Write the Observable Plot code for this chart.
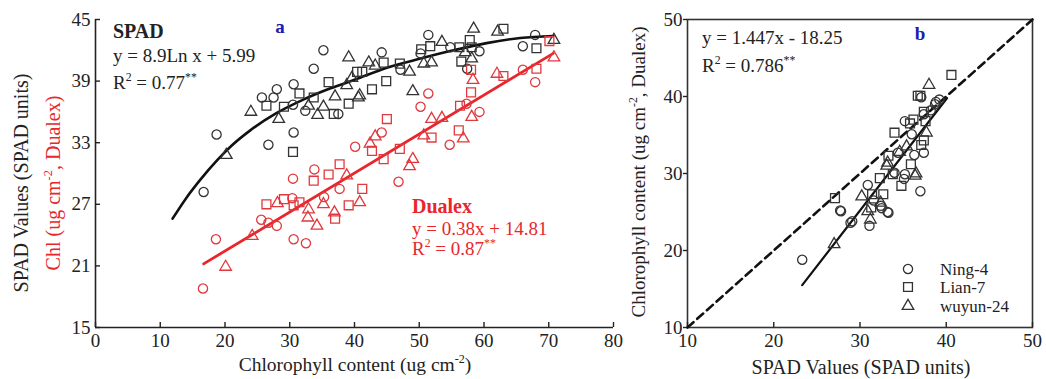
<!DOCTYPE html>
<html><head><meta charset="utf-8">
<script src="https://cdn.jsdelivr.net/npm/d3@7"></script>
<script src="https://cdn.jsdelivr.net/npm/@observablehq/plot@0.6"></script>
<style>
body{margin:0;background:#fff;}
#wrap{position:relative;width:1046px;height:379px;overflow:hidden;background:#fff;}
#wrap > svg{position:absolute;top:0;}
</style></head>
<body><div id="wrap"></div>
<script>
// ---------- data ----------
const cultivars = ["Ning-4", "Lian-7", "wuyun-24"];
const shapes = ["circle", "square", "triangle"];
const chlTicks = [0, 10, 20, 30, 40, 50, 60, 70, 80];
const spadTicks = [15, 21, 27, 33, 39, 45];
const bTicks = [10, 20, 30, 40, 50];

// Panel a: SPAD (black) vs chlorophyll content
const spadNing = [[16.7,28.2],[18.7,33.8],[26.7,32.8],[25.7,37.4],[27.5,37.4],[28.0,38.2],[30.6,38.7],[30.6,34.0],[30.5,36.7],[33.7,40.2],[35.2,42.0],[32.4,36.1],[37.5,35.8],[51.4,43.5],[44.2,41.8],[47.1,40.1],[50.2,41.7],[54.8,42.3],[59.3,41.9],[57.4,40.2],[66.0,42.4],[67.9,43.5]];
const spadLian = [[26.4,36.6],[29.1,36.5],[30.5,32.1],[31.5,37.8],[33.7,37.4],[36.0,38.9],[39.1,36.8],[40.4,39.9],[36.8,35.8],[41.2,39.9],[42.7,38.2],[44.5,40.8],[44.9,39.0],[47.0,40.7],[50.3,42.1],[51.7,42.4],[56.2,42.3],[57.8,43.0],[58.1,42.3],[56.5,40.9],[63.0,44.1],[68.1,42.2]];
const spadWuyun = [[20.2,31.8],[24.0,36.0],[28.3,35.3],[32.9,36.6],[35.2,36.5],[34.3,35.7],[37.0,37.5],[38.8,38.6],[39.6,39.3],[39.1,41.3],[40.6,37.4],[42.2,40.8],[43.2,40.5],[40.8,37.6],[48.5,39.9],[49.0,38.0],[50.7,40.7],[51.9,40.8],[53.5,42.8],[58.4,44.1],[62.1,43.8],[58.1,41.2],[57.1,41.8],[70.8,43.0]];
// Panel a: Dualex (red) vs chlorophyll content
const dualexNing = [[16.6,18.8],[18.6,23.6],[25.6,25.5],[26.7,25.2],[28.0,24.9],[30.6,23.6],[32.5,23.2],[30.5,29.5],[30.4,27.6],[33.8,30.4],[35.3,27.7],[37.7,28.5],[51.4,37.8],[50.2,36.5],[44.2,34.0],[40.1,32.6],[46.8,29.2],[54.7,32.8],[57.3,36.8],[59.3,36.0],[66.0,40.1],[67.9,38.9]];
const dualexLian = [[26.4,27.0],[29.1,27.5],[30.6,26.9],[31.5,27.2],[33.7,29.3],[36.0,29.9],[37.7,30.9],[37.0,25.6],[39.1,26.9],[45.0,35.3],[42.7,32.2],[44.5,31.4],[47.0,32.4],[51.9,33.5],[56.1,34.2],[56.3,36.6],[58.0,37.9],[41.2,28.5],[63.0,39.5],[68.1,40.2],[58.0,40.1],[70.1,42.9]];
const dualexWuyun = [[20.1,20.9],[24.2,23.9],[28.1,27.1],[32.9,26.5],[32.8,25.7],[34.2,24.9],[35.2,27.0],[36.9,26.2],[38.8,29.8],[42.4,32.9],[43.2,33.6],[51.9,35.3],[53.5,35.4],[58.1,35.5],[56.8,33.4],[50.7,33.7],[49.0,31.4],[48.5,30.7],[62.0,39.7],[58.3,39.1],[40.8,27.2],[70.8,41.3]];
// fitted curves as drawn
const spadFitX = [11.9, 14.0, 16.2, 18.8, 21.0, 23.9, 28.0, 32.1, 36.3, 39.9, 45.0, 50.2, 55.3, 60.4, 65.6, 70.7];
const spadFitY = [25.6, 27.6, 29.4, 31.3, 32.7, 34.2, 35.9, 37.2, 38.3, 39.1, 40.3, 41.2, 42.0, 42.7, 43.2, 43.4];
const dualexFitX = [16.7, 70.7];
const dualexFitY = [21.2, 41.7];

// Panel b: Dualex chlorophyll vs SPAD
const bNing = [[23.3,18.8],[27.8,25.1],[28.9,23.6],[29.1,23.8],[31.1,23.2],[30.9,28.5],[32.5,25.5],[33.3,24.9],[37.0,27.7],[31.6,26.5],[27.7,25.2],[32.4,25.8],[35.2,36.8],[37.1,39.9],[38.2,38.2],[38.7,39.0],[39.2,39.6],[34.4,32.7],[37.4,32.7],[35.1,29.3],[34.0,30.1],[36.3,32.4],[36.0,35.1],[38.8,39.3],[37.4,37.7],[35.2,29.9],[33.2,25.0]];
const bLian = [[40.6,42.8],[34.0,35.3],[37.0,40.1],[37.4,38.0],[37.4,34.3],[37.1,33.7],[32.3,29.4],[33.3,32.3],[35.9,31.2],[34.8,28.4],[27.1,26.8],[35.8,36.5],[31.4,27.3],[32.7,27.3],[33.8,29.9],[31.3,25.6],[36.7,40.1],[37.6,36.8],[36.2,37.0]];
const bWuyun = [[38.0,41.5],[36.4,29.7],[30.2,27.0],[30.9,25.1],[27.0,20.8],[37.7,35.3],[33.1,31.0],[31.2,24.0],[32.4,26.2],[36.5,30.0],[33.2,31.4],[35.4,33.5],[34.6,32.8]];
const oneToOneX = [10, 50];
const oneToOneY = [10, 50];
const bFitX = [23.3, 40.1];
const bFitY = [15.5, 39.8];

// ---------- helpers ----------
const toRows = (arr, cultivar) => arr.map(([x, y]) => ({x, y, cultivar}));
const zipXY = (xs, ys) => xs.map((x, i) => ({x, y: ys[i]}));
const rA_spad = [...toRows(spadNing, "Ning-4"), ...toRows(spadLian, "Lian-7"), ...toRows(spadWuyun, "wuyun-24")];
const rA_dual = [...toRows(dualexNing, "Ning-4"), ...toRows(dualexLian, "Lian-7"), ...toRows(dualexWuyun, "wuyun-24")];
const rB = [...toRows(bNing, "Ning-4"), ...toRows(bLian, "Lian-7"), ...toRows(bWuyun, "wuyun-24")];
const radius = {"Ning-4": 4.6, "Lian-7": 5.0, "wuyun-24": 4.3};

const RED = "#e8262b", RED_PT = "#e0393d", BLK = "#222", BLUE = "#1c1caf";
const FONT = "'Liberation Serif','Times New Roman',serif";

function dots(rows, stroke) {
  return cultivars.map(c => Plot.dot(rows, {
    filter: d => d.cultivar === c, x: "x", y: "y", symbol: "cultivar",
    r: radius[c], stroke, strokeWidth: 1.3, fill: "none"
  }));
}

const A = Plot.plot({
  width: 640, height: 379,
  marginLeft: 95, marginRight: 27, marginTop: 19, marginBottom: 52,
  x: {domain: [0, 80]},
  y: {domain: [15, 45]},
  symbol: {domain: cultivars, range: shapes},
  style: {fontFamily: FONT, fontSize: "19px", color: BLK, background: "transparent", overflow: "visible"},
  marks: [
    Plot.ruleX([0], {stroke: BLK, strokeWidth: 1.6}),
    Plot.ruleY([15], {stroke: BLK, strokeWidth: 1.6}),
    Plot.axisY(spadTicks, {tickSize: -5, tickPadding: 10, label: null, strokeWidth: 1.4}),
    Plot.axisX(chlTicks, {tickSize: -5, tickPadding: 11, label: null, strokeWidth: 1.4}),
    Plot.line(zipXY(spadFitX, spadFitY), {x: "x", y: "y", curve: "monotone-x", stroke: "#111", strokeWidth: 2.6}),
    Plot.line(zipXY(dualexFitX, dualexFitY), {x: "x", y: "y", stroke: RED, strokeWidth: 2.8}),
    ...dots(rA_spad, "#333"),
    ...dots(rA_dual, RED_PT)
  ]
});

const B = Plot.plot({
  width: 406, height: 379,
  marginLeft: 47, marginRight: 14, marginTop: 19, marginBottom: 52,
  x: {domain: [10, 50]},
  y: {domain: [10, 50]},
  symbol: {domain: cultivars, range: shapes},
  style: {fontFamily: FONT, fontSize: "19px", color: BLK, background: "transparent", overflow: "visible"},
  marks: [
    Plot.frame({stroke: "#333", strokeWidth: 1.6}),
    Plot.axisY(bTicks, {tickSize: 4, tickPadding: 1, label: null, strokeWidth: 1.4}),
    Plot.axisX(bTicks, {tickSize: -5, tickPadding: 11, label: null, strokeWidth: 1.4}),
    Plot.line(zipXY(oneToOneX, oneToOneY), {x: "x", y: "y", stroke: "#111", strokeWidth: 2.6, strokeDasharray: "8,5"}),
    Plot.line(zipXY(bFitX, bFitY), {x: "x", y: "y", stroke: "#111", strokeWidth: 2.2}),
    ...dots(rB, "#333")
  ]
});

const wrap = document.getElementById("wrap");
A.style.left = "0px";
B.style.left = "640px";
wrap.appendChild(A);
wrap.appendChild(B);

// ---------- text overlay ----------
const ov = d3.select(wrap).append("svg")
  .attr("width", 1046).attr("height", 379)
  .style("left", "0px").style("pointer-events", "none")
  .attr("font-family", FONT);

function addText(x, y, parts, o = {}) {
  const size = o.size || 19;
  const t = ov.append("text").attr("x", x).attr("y", y)
    .attr("font-size", size).attr("font-weight", o.weight || "normal")
    .attr("fill", o.fill || BLK).attr("text-anchor", o.anchor || "start");
  if (o.rotate) t.attr("transform", `rotate(${o.rotate},${x},${y})`);
  let raised = false;
  const shift = size * 0.42;
  for (const p of parts) {
    const sup = Array.isArray(p);
    const s = t.append("tspan").text(sup ? p[0] : p);
    if (sup) { s.attr("font-size", size * 0.62); if (!raised) s.attr("dy", -shift); raised = true; }
    else if (raised) { s.attr("dy", shift); raised = false; }
  }
  return t;
}

// panel a annotations
addText(113, 38, ["SPAD"], {weight: "bold", size: 20});
addText(113, 62, ["y = 8.9Ln x + 5.99"]);
addText(113, 89, ["R", ["2"], " = 0.77", ["**"]]);
addText(280, 33, ["a"], {weight: "bold", fill: BLUE, anchor: "middle"});
addText(412, 213, ["Dualex"], {weight: "bold", size: 20, fill: RED});
addText(412, 235, ["y = 0.38x + 14.81"], {fill: RED});
addText(412, 255, ["R", ["2"], " = 0.87", ["**"]], {fill: RED});
// panel a axis labels
addText(355, 371, ["Chlorophyll content (ug cm", ["-2"], ")"], {anchor: "middle", size: 19.5});
addText(28, 183, ["SPAD Values (SPAD units)"], {anchor: "middle", size: 20, rotate: -90});
addText(60, 183, ["Chl (ug cm", ["-2"], ", Dualex)"], {anchor: "middle", size: 20, rotate: -90, fill: RED});

// panel b annotations
addText(702, 44, ["y = 1.447x - 18.25"]);
addText(702, 72, ["R", ["2"], " = 0.786", ["**"]]);
addText(920, 40, ["b"], {weight: "bold", fill: BLUE, anchor: "middle"});
addText(861, 374, ["SPAD Values (SPAD units)"], {anchor: "middle", size: 20});
addText(645, 172, ["Chlorophyll content (ug cm", ["-2"], ", Dualex)"], {anchor: "middle", size: 19, rotate: -90});

// panel b legend (symbols from the same d3 symbol set Plot uses)
const legendSym = {circle: d3.symbolCircle, square: d3.symbolSquare, triangle: d3.symbolTriangle};
const legendY = [269, 287, 306];
cultivars.forEach((c, i) => {
  const r = radius[c];
  ov.append("path")
    .attr("d", d3.symbol(legendSym[shapes[i]], Math.PI * r * r)())
    .attr("transform", `translate(908,${legendY[i]})`)
    .attr("fill", "none").attr("stroke", "#333").attr("stroke-width", 1.3);
  addText(940, legendY[i] + 6, [c], {size: 17});
});
</script>
</body></html>
